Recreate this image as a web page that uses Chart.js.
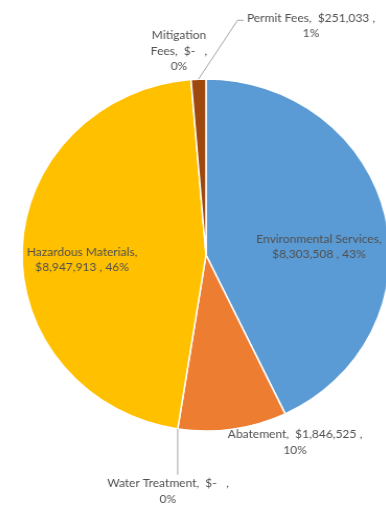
<!DOCTYPE html>
<html lang="en">
<head>
<meta charset="UTF-8">
<title>Revenue by Program</title>
<style>
  body { margin: 0; background: #fff; overflow: hidden; }
  #wrap { width: 386px; height: 527px; }
  /* the pie is drawn slightly wider than tall */
  #myChart { transform: scaleX(1.045); transform-origin: 206px 0; }
</style>
</head>
<body>
<div id="wrap"><canvas id="myChart" width="386" height="527"></canvas></div>

<script src="https://cdn.jsdelivr.net/npm/chart.js"></script>
<script>
const categories = ['Environmental Services', 'Abatement', 'Water Treatment', 'Hazardous Materials', 'Mitigation Fees', 'Permit Fees'];
const amounts = [8303508, 1846525, 0, 8947913, 0, 251033];
const colors = ['#5B9BD5', '#ED7D31', '#A5A5A5', '#FFC000', '#4472C4', '#9E480E'];

const total = amounts.reduce((a, b) => a + b, 0);

function money(v) { return v === 0 ? '$-  ' : '$' + v.toLocaleString('en-US'); }
function pct(v) { return Math.round(v / total * 100) + '%'; }

// label words, wrapped later like the spreadsheet callouts
function labelWords(i) {
  const words = categories[i].split(' ');
  words[words.length - 1] += ',';
  words.push(' ' + money(amounts[i]) + ' ,');
  words.push(pct(amounts[i]));
  return words;
}

// where each label block sits, in pie radii from the centre, plus its wrap width
const place = [
  { x: 0.614, y: -0.048, w: 135 },
  { x: 0.484, y: 1.065, w: 150 },
  { x: -0.207, y: 1.344, w: 122, leader: 'down' },
  { x: -0.674, y: 0.026, w: 120 },
  { x: -0.147, y: -1.159, w: 62 },
  { x: 0.571, y: -1.301, w: 140, leader: 'elbow' }
];

function wrap(ctx, words, maxW) {
  const lines = [];
  let cur = '';
  words.forEach(w => {
    const test = cur ? cur + ' ' + w : w;
    if (cur && ctx.measureText(test).width > maxW) {
      lines.push(cur);
      cur = w.trim();
    } else {
      cur = test;
    }
  });
  if (cur) lines.push(cur);
  return lines;
}

const callouts = {
  id: 'callouts',
  afterDatasetsDraw(chart) {
    const ctx = chart.ctx;
    const arcs = chart.getDatasetMeta(0).data;
    const cx = arcs[0].x, cy = arcs[0].y, r = arcs[0].outerRadius;
    const lh = 15.5;
    ctx.save();
    ctx.font = '11.5px Lato';
    ctx.textAlign = 'center';
    ctx.textBaseline = 'middle';
    arcs.forEach((arc, i) => {
      const p = place[i];
      const lines = wrap(ctx, labelWords(i), p.w);
      const bx = cx + p.x * r;
      const by = cy + p.y * r;
      const top = by - (lines.length - 1) * lh / 2;

      const a = (arc.startAngle + arc.endAngle) / 2;
      const ex = cx + Math.cos(a) * r, ey = cy + Math.sin(a) * r;
      ctx.strokeStyle = '#A6A6A6';
      ctx.lineWidth = 1;
      if (p.leader === 'down') {
        ctx.beginPath();
        ctx.moveTo(ex, ey);
        ctx.lineTo(ex, top - 9);
        ctx.stroke();
      } else if (p.leader === 'elbow') {
        const left = bx - ctx.measureText(lines[0]).width / 2;
        ctx.beginPath();
        ctx.moveTo(ex, ey);
        ctx.lineTo(left - 9, top + 2);
        ctx.lineTo(left - 3, top + 2);
        ctx.stroke();
      }

      ctx.fillStyle = '#505050';
      lines.forEach((t, k) => ctx.fillText(t, bx, top + k * lh));
    });
    ctx.restore();
  }
};

new Chart(document.getElementById('myChart'), {
  type: 'pie',
  data: {
    labels: categories,
    datasets: [{
      data: amounts,
      backgroundColor: colors,
      borderColor: '#ffffff',
      borderWidth: 1.5
    }]
  },
  options: {
    responsive: false,
    animation: false,
    radius: 176,
    layout: { padding: { left: 30, right: 4, top: 79, bottom: 96 } },
    plugins: {
      legend: { display: false },
      tooltip: { enabled: false }
    }
  },
  plugins: [callouts]
});
</script>
</body>
</html>
